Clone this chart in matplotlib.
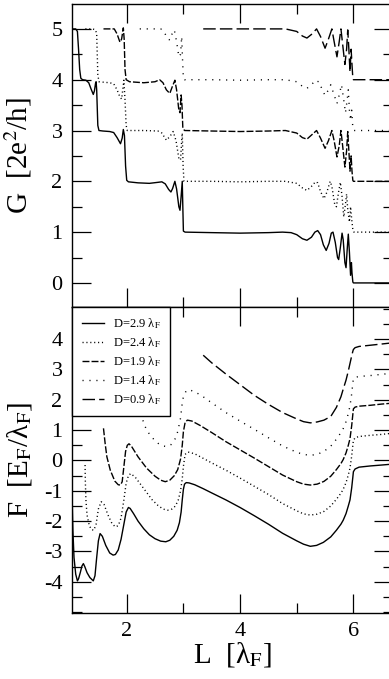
import matplotlib
matplotlib.use("Agg")
import matplotlib.pyplot as plt
from matplotlib.ticker import MultipleLocator, FixedLocator

plt.rcParams['font.family'] = ['Liberation Serif', 'DejaVu Serif']
plt.rcParams['mathtext.fontset'] = 'stix'
plt.rcParams['axes.unicode_minus'] = False

# ---------------- data ----------------
labels = ['D=2.9 λ$_{\\rm F}$', 'D=2.4 λ$_{\\rm F}$', 'D=1.9 λ$_{\\rm F}$',
          'D=1.4 λ$_{\\rm F}$', 'D=0.9 λ$_{\\rm F}$']
G_ticks = [0, 1, 2, 3, 4, 5]
F_ticks = [-4, -3, -2, -1, 0, 1, 2, 3, 4]

# top panel: conductance G (offset curves)
G29_L = [1.04, 1.10, 1.13, 1.15, 1.17, 1.19, 1.22, 1.28, 1.33, 1.37, 1.41, 1.43, 1.45, 1.46, 1.47, 1.49,
         1.51, 1.58, 1.70, 1.77, 1.83, 1.89, 1.92, 1.94, 1.96, 1.98, 2.00, 2.03, 2.20, 2.40, 2.55, 2.62,
         2.68, 2.74, 2.78, 2.81, 2.85, 2.88, 2.92, 2.94, 2.96, 2.98, 2.99, 3.00, 3.03, 3.50, 4.00, 4.50,
         4.75, 4.90, 5.00, 5.10, 5.18, 5.26, 5.32, 5.37, 5.42, 5.47, 5.52, 5.57, 5.61, 5.64, 5.68, 5.72,
         5.74, 5.77, 5.80, 5.82, 5.85, 5.87, 5.89, 5.91, 5.93, 5.95, 5.965, 5.975, 5.99, 6.00, 6.69]
G29 = [5.0, 5.0, 4.95, 4.6, 4.2, 4.03, 4.0, 3.99, 3.94, 3.82, 3.71, 3.78, 3.93, 3.96, 3.8, 3.1,
       3.0, 2.99, 2.98, 2.96, 2.86, 2.74, 2.85, 3.02, 2.9, 2.3, 2.02, 1.99, 1.97, 1.96, 1.98, 1.99,
       1.95, 1.84, 1.79, 1.86, 2.0, 1.85, 1.5, 1.43, 1.7, 2.0, 1.5, 1.02, 1.0, 0.99, 0.98, 0.99,
       1.0, 0.99, 0.95, 0.87, 0.84, 0.9, 1.0, 1.03, 0.95, 0.75, 0.64, 0.78, 0.98, 1.0, 0.8, 0.5,
       0.46, 0.7, 0.98, 0.85, 0.4, 0.3, 0.65, 0.96, 0.6, 0.15, 0.4, 0.2, 0.02, 0.0, 0.0]

G24_L = [1.27, 1.40, 1.45, 1.47, 1.48, 1.49, 1.51, 1.60, 1.70, 1.77, 1.83, 1.88, 1.91, 1.93, 1.95, 1.97,
         1.99, 2.01, 2.30, 2.55, 2.62, 2.70, 2.76, 2.82, 2.87, 2.92, 2.95, 2.97, 2.98, 2.995, 3.01, 3.50,
         4.00, 4.50, 4.80, 5.00, 5.10, 5.18, 5.26, 5.33, 5.37, 5.42, 5.48, 5.53, 5.59, 5.62, 5.67, 5.70,
         5.74, 5.77, 5.80, 5.83, 5.86, 5.88, 5.90, 5.93, 5.95, 5.97, 5.99, 6.01, 6.69]
G24 = [5.0, 5.0, 4.98, 4.9, 4.5, 4.1, 3.96, 3.95, 3.94, 3.92, 3.8, 3.66, 3.62, 3.8, 3.99, 3.6,
       3.1, 3.0, 3.0, 2.99, 2.95, 2.81, 2.88, 2.98, 2.8, 2.45, 2.42, 2.8, 2.95, 2.3, 2.0, 2.0,
       1.99, 2.0, 2.0, 1.96, 1.87, 1.82, 1.9, 1.99, 1.97, 1.8, 1.66, 1.78, 2.0, 1.9, 1.55, 1.5,
       1.8, 1.98, 1.7, 1.3, 1.55, 1.75, 1.45, 1.2, 1.5, 1.25, 1.05, 1.0, 1.0]

G19_L = [1.59, 1.78, 1.83, 1.88, 1.91, 1.94, 1.955, 1.97, 1.99, 2.05, 2.30, 2.50, 2.58, 2.64, 2.70, 2.76,
         2.80, 2.85, 2.88, 2.92, 2.94, 2.96, 2.975, 2.99, 3.02, 3.50, 4.00, 4.50, 4.80, 5.00, 5.10, 5.18,
         5.27, 5.35, 5.42, 5.50, 5.56, 5.62, 5.66, 5.71, 5.75, 5.78, 5.81, 5.85, 5.88, 5.90, 5.92, 5.94,
         5.96, 5.975, 5.99, 6.00, 6.69]
G19 = [5.0, 5.0, 4.9, 4.74, 4.8, 5.02, 4.8, 4.2, 4.0, 3.96, 3.94, 3.96, 4.0, 3.94, 3.8, 3.73,
       3.85, 3.99, 3.8, 3.4, 3.35, 3.7, 3.5, 3.05, 3.0, 2.99, 2.98, 2.99, 3.0, 2.95, 2.86, 2.83,
       2.92, 3.0, 2.85, 2.65, 2.8, 3.0, 2.8, 2.48, 2.7, 3.0, 2.7, 2.28, 2.6, 2.98, 2.6, 2.2,
       2.5, 2.2, 2.02, 2.0, 2.0]

G14_L = [2.23, 2.60, 2.66, 2.71, 2.76, 2.80, 2.84, 2.88, 2.92, 2.95, 2.97, 2.985, 3.00, 3.02, 3.50, 4.00,
         4.50, 4.80, 5.00, 5.10, 5.18, 5.26, 5.33, 5.40, 5.45, 5.50, 5.56, 5.60, 5.66, 5.71, 5.75, 5.79,
         5.83, 5.86, 5.89, 5.91, 5.93, 5.95, 5.97, 5.99, 6.01, 6.69]
G14 = [5.0, 5.0, 4.95, 4.82, 4.78, 4.9, 4.98, 4.75, 4.45, 4.5, 4.85, 4.4, 4.02, 4.0, 4.0, 3.99,
       4.0, 4.0, 3.96, 3.87, 3.83, 3.9, 3.99, 3.95, 3.8, 3.69, 3.8, 3.9, 3.7, 3.53, 3.7, 3.9,
       3.6, 3.35, 3.6, 3.8, 3.4, 3.2, 3.4, 3.05, 3.0, 3.0]

G09_L = [3.35, 4.00, 4.50, 4.80, 5.00, 5.10, 5.18, 5.27, 5.35, 5.42, 5.50, 5.56, 5.62, 5.66, 5.71, 5.75,
         5.78, 5.81, 5.85, 5.88, 5.90, 5.92, 5.94, 5.96, 5.975, 5.99, 6.00, 6.69]
G09 = [5.0, 5.0, 5.0, 5.0, 4.95, 4.86, 4.82, 4.9, 5.0, 4.85, 4.62, 4.8, 5.0, 4.75, 4.45, 4.75,
       5.0, 4.7, 4.3, 4.6, 4.98, 4.6, 4.15, 4.6, 4.3, 4.03, 4.0, 4.0]

# bottom panel: F (offset curves)
F29_L = [1.04, 1.05, 1.07, 1.10, 1.13, 1.15, 1.18, 1.21, 1.235, 1.26, 1.30, 1.35, 1.41, 1.44, 1.47, 1.50,
         1.53, 1.57, 1.63, 1.70, 1.76, 1.80, 1.85, 1.90, 1.95, 1.99, 2.03, 2.06, 2.12, 2.20, 2.30, 2.40,
         2.50, 2.60, 2.69, 2.76, 2.83, 2.89, 2.93, 2.96, 2.98, 3.00, 3.02, 3.05, 3.10, 3.20, 3.35, 3.50,
         3.75, 4.00, 4.25, 4.50, 4.75, 5.00, 5.12, 5.24, 5.35, 5.47, 5.60, 5.70, 5.78, 5.82, 5.87, 5.91,
         5.94, 5.97, 5.99, 6.00, 6.03, 6.10, 6.30, 6.50, 6.69]
F29 = [-1.5, -2.3, -3.2, -3.75, -3.97, -3.9, -3.7, -3.48, -3.4, -3.5, -3.7, -3.86, -3.97, -3.8, -3.2, -2.65,
       -2.41, -2.5, -2.8, -3.05, -3.12, -3.1, -2.95, -2.6, -2.1, -1.7, -1.55, -1.58, -1.75, -2.0, -2.25, -2.45,
       -2.58, -2.66, -2.68, -2.63, -2.5, -2.3, -2.05, -1.7, -1.3, -0.95, -0.78, -0.73, -0.74, -0.8, -0.93, -1.07,
       -1.3, -1.55, -1.82, -2.1, -2.4, -2.65, -2.76, -2.83, -2.8, -2.7, -2.52, -2.3, -2.1, -1.97, -1.75, -1.5,
       -1.3, -0.9, -0.55, -0.37, -0.28, -0.22, -0.18, -0.15, -0.12]

F24_L = [1.265, 1.27, 1.28, 1.30, 1.34, 1.38, 1.42, 1.46, 1.50, 1.55, 1.60, 1.67, 1.74, 1.80, 1.85, 1.90,
         1.95, 1.99, 2.03, 2.07, 2.15, 2.25, 2.35, 2.45, 2.55, 2.64, 2.72, 2.80, 2.86, 2.91, 2.95, 2.98,
         3.00, 3.03, 3.08, 3.20, 3.35, 3.50, 3.75, 4.00, 4.25, 4.50, 4.75, 5.00, 5.12, 5.24, 5.36, 5.48,
         5.60, 5.70, 5.78, 5.82, 5.87, 5.91, 5.94, 5.97, 5.99, 6.00, 6.03, 6.10, 6.30, 6.50, 6.69]
F24 = [-0.15, -0.7, -1.3, -1.8, -2.15, -2.28, -2.3, -2.1, -1.6, -1.36, -1.45, -1.8, -2.08, -2.19, -2.15, -1.9,
       -1.3, -0.75, -0.5, -0.43, -0.55, -0.8, -1.05, -1.3, -1.48, -1.6, -1.64, -1.6, -1.5, -1.3, -1.0, -0.6,
       -0.2, 0.2, 0.28, 0.22, 0.07, -0.08, -0.32, -0.58, -0.85, -1.12, -1.42, -1.66, -1.76, -1.8, -1.77, -1.68,
       -1.5, -1.28, -1.08, -0.95, -0.73, -0.48, -0.25, 0.15, 0.5, 0.66, 0.75, 0.79, 0.83, 0.86, 0.9]

F19_L = [1.59, 1.62, 1.65, 1.71, 1.79, 1.85, 1.89, 1.92, 1.95, 1.98, 2.01, 2.04, 2.08, 2.20, 2.35, 2.50,
         2.60, 2.68, 2.76, 2.84, 2.90, 2.95, 2.98, 3.00, 3.03, 3.07, 3.15, 3.30, 3.50, 3.75, 4.00, 4.25,
         4.50, 4.75, 5.00, 5.12, 5.24, 5.36, 5.48, 5.60, 5.70, 5.78, 5.82, 5.87, 5.91, 5.94, 5.97, 5.99,
         6.00, 6.03, 6.10, 6.30, 6.50, 6.69]
F19 = [1.06, 0.55, 0.12, -0.32, -0.68, -0.8, -0.81, -0.7, -0.2, 0.3, 0.5, 0.55, 0.48, 0.12, -0.25, -0.52,
       -0.65, -0.7, -0.65, -0.5, -0.3, 0.05, 0.5, 0.95, 1.25, 1.33, 1.3, 1.15, 0.92, 0.62, 0.35, 0.08,
       -0.2, -0.48, -0.7, -0.78, -0.81, -0.78, -0.69, -0.52, -0.3, -0.1, 0.03, 0.25, 0.5, 0.72, 1.15, 1.52,
       1.7, 1.76, 1.79, 1.82, 1.86, 1.89]

F14_L = [2.23, 2.28, 2.35, 2.45, 2.55, 2.63, 2.71, 2.78, 2.85, 2.90, 2.95, 2.98, 3.00, 3.05, 3.10, 3.20,
         3.35, 3.50, 3.75, 4.00, 4.25, 4.50, 4.75, 5.00, 5.12, 5.24, 5.36, 5.48, 5.60, 5.70, 5.78, 5.82,
         5.87, 5.91, 5.94, 5.97, 5.99, 6.00, 6.03, 6.10, 6.30, 6.50, 6.69]
F14 = [1.77, 1.35, 1.0, 0.75, 0.57, 0.48, 0.46, 0.52, 0.7, 0.95, 1.4, 1.9, 2.1, 2.3, 2.33, 2.27,
       2.1, 1.9, 1.58, 1.3, 1.03, 0.75, 0.48, 0.27, 0.2, 0.17, 0.2, 0.3, 0.47, 0.7, 0.92, 1.05,
       1.28, 1.55, 1.8, 2.2, 2.55, 2.7, 2.74, 2.77, 2.8, 2.84, 2.88]

F09_L = [3.35, 3.50, 3.75, 4.00, 4.25, 4.50, 4.75, 5.00, 5.12, 5.24, 5.36, 5.48, 5.60, 5.70, 5.78, 5.82,
         5.87, 5.91, 5.94, 5.97, 5.99, 6.00, 6.03, 6.10, 6.30, 6.50, 6.69]
F09 = [3.47, 3.22, 2.85, 2.5, 2.15, 1.85, 1.58, 1.37, 1.28, 1.24, 1.27, 1.33, 1.45, 1.75, 2.1, 2.35,
       2.65, 2.95, 3.2, 3.45, 3.6, 3.66, 3.72, 3.76, 3.8, 3.84, 3.88]

# ---------------- styles ----------------
styles = [dict(ls='-', lw=1.0),
          dict(ls=(0, (0.8, 2.0)), lw=1.0),
          dict(ls=(0, (5.0, 1.5)), lw=1.0),
          dict(ls=(0, (0.8, 4.2)), lw=1.0),
          dict(ls=(0, (9.0, 3.0)), lw=1.0)]

fig = plt.figure(figsize=(3.89, 6.79), dpi=100)
ax1 = fig.add_axes([0.1859, 0.5474, 0.8231, 0.4467])
ax2 = fig.add_axes([0.1859, 0.0976, 0.8231, 0.4498])

Gdata = [(G29_L, G29), (G24_L, G24), (G19_L, G19), (G14_L, G14), (G09_L, G09)]
Fdata = [(F29_L, F29), (F24_L, F24), (F19_L, F19), (F14_L, F14), (F09_L, F09)]

for (x, y), st in zip(Gdata, styles):
    ax1.plot(x, y, color='black', **st)
for (x, y), st, lab in zip(Fdata, styles, labels):
    ax2.plot(x, y, color='black', label=lab, **st)

for ax in (ax1, ax2):
    ax.set_xlim(1.04, 6.69)
    ax.xaxis.set_major_locator(MultipleLocator(2))
    ax.xaxis.set_minor_locator(MultipleLocator(1))
    ax.yaxis.set_minor_locator(MultipleLocator(0.5))
    ax.tick_params(which='both', direction='in', top=True, right=True, width=0.9, labelsize=16)
    ax.tick_params(which='major', length=14, pad=7)
    ax.tick_params(which='minor', length=7)
    for s in ax.spines.values():
        s.set_linewidth(1.0)

ax1.yaxis.set_major_locator(FixedLocator(G_ticks))
ax2.yaxis.set_major_locator(FixedLocator(F_ticks))
ax1.set_ylim(-0.48, 5.49)
ax2.set_ylim(-5.02, 5.05)
ax1.tick_params(labelbottom=False)

ax1.set_ylabel('G  [2e$^{2}$/h]', fontsize=21)
ax2.set_ylabel('F  [E$_{\\rm F}$/λ$_{\\rm F}$]', fontsize=21)
ax2.set_xlabel('L  [λ$_{\\rm F}$]', fontsize=21)
ax1.yaxis.set_label_coords(-0.119, 0.5)
ax2.yaxis.set_label_coords(-0.119, 0.5)
ax2.xaxis.set_label_coords(0.5, -0.09)

leg = ax2.legend(loc='upper left', bbox_to_anchor=(0, 1), borderaxespad=0, frameon=True,
                 fancybox=False, edgecolor='black', framealpha=1, fontsize=9,
                 handlelength=1.75, handletextpad=0.75, borderpad=0.75, labelspacing=0.32)
leg.get_frame().set_linewidth(1.0)

fig.savefig('out.png', dpi=100)
